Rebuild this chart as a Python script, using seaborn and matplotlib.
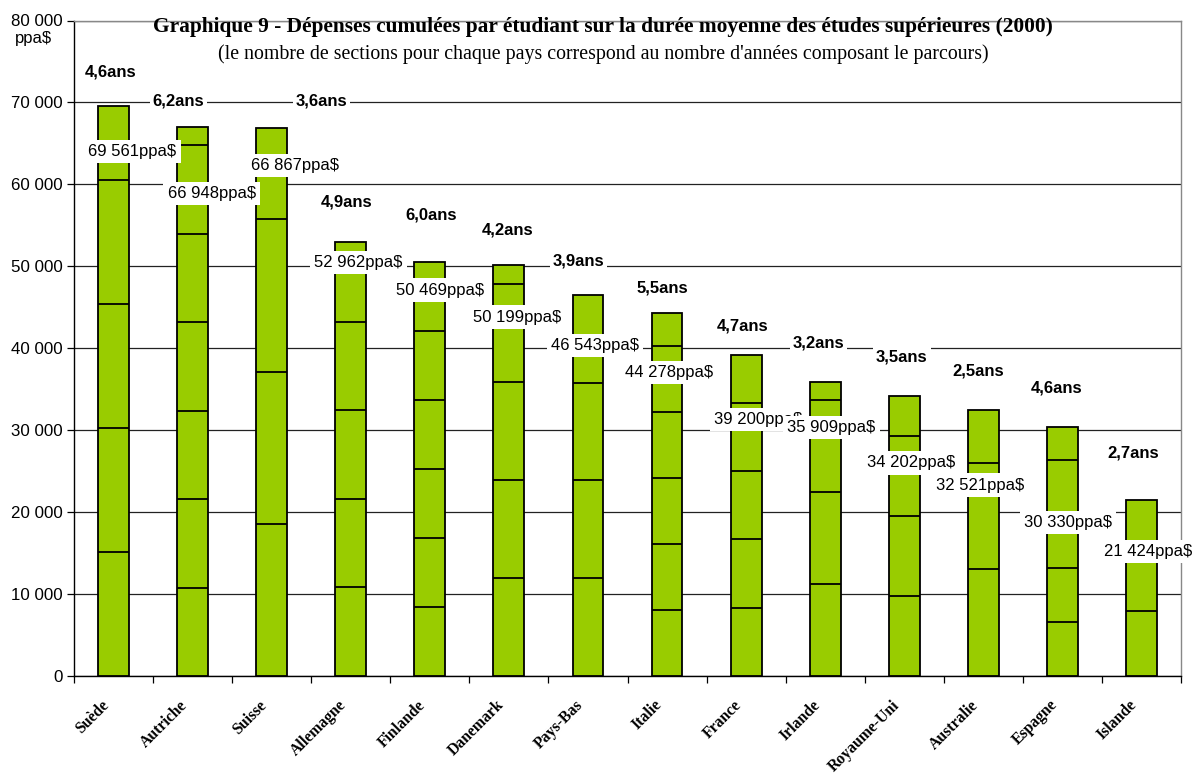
import numpy as np
import pandas as pd
import matplotlib
matplotlib.use("Agg")
import matplotlib.pyplot as plt
import matplotlib.transforms as mtransforms
import seaborn as sns

# Cumulative spending per student over the average length of tertiary studies (2000)
pays = ["Suède", "Autriche", "Suisse", "Allemagne", "Finlande", "Danemark", "Pays-Bas",
        "Italie", "France", "Irlande", "Royaume-Uni", "Australie", "Espagne", "Islande"]
depenses = [69561, 66948, 66867, 52962, 50469, 50199, 46543,
            44278, 39200, 35909, 34202, 32521, 30330, 21424]
duree = [4.6, 6.2, 3.6, 4.9, 6.0, 4.2, 3.9, 5.5, 4.7, 3.2, 3.5, 2.5, 4.6, 2.7]

# label placement (category offset, y value) for the duration and amount labels
pos_duree = [(-0.04, 73700), (-0.18, 70200), (0.63, 70200), (-0.05, 57800), (0.02, 56300),
             (-0.02, 54400), (-0.12, 50600), (-0.06, 47300), (-0.04, 42700), (-0.08, 40600),
             (-0.03, 38900), (-0.06, 37200), (-0.07, 35200), (-0.1, 27200)]
pos_valeur = [(0.24, 64000), (0.24, 58900), (0.3, 62300), (0.10, 50500), (0.13, 47100),
              (0.1, 43800), (0.09, 40300), (0.02, 37000), (0.15, 31300), (0.08, 30300),
              (0.09, 26000), (-0.04, 23300), (0.07, 18700), (0.09, 15200)]

df = pd.DataFrame({"pays": pays, "depenses": depenses, "duree": duree})

sns.set_theme(style="white")
plt.rcParams["font.family"] = ["Liberation Sans", "DejaVu Sans"]
plt.rcParams["text.color"] = "black"
plt.rcParams["xtick.color"] = "black"
plt.rcParams["ytick.color"] = "black"
plt.rcParams["axes.labelcolor"] = "black"

fig = plt.figure(figsize=(12, 7.73), dpi=100)
ax = fig.add_axes([74 / 1200, 1 - 676 / 773, (1181 - 74) / 1200, (676 - 20.5) / 773])

vert = "#99CC00"
sns.barplot(data=df, x="pays", y="depenses", color=vert, saturation=1, width=0.39,
            edgecolor="black", linewidth=1.3, ax=ax, zorder=3)

# one section per year of study: horizontal dividers at each annual amount
for patch, total, d in zip(ax.patches, depenses, duree):
    annuel = total / d
    x0, w = patch.get_x(), patch.get_width()
    k = 1
    while k * annuel < total - 1:
        ax.hlines(k * annuel, x0, x0 + w, color="black", linewidth=1.3, zorder=4)
        k += 1

ax.set_ylim(0, 80000)
ax.set_xlim(-0.5, len(pays) - 0.5)
ax.set_yticks(np.arange(0, 80001, 10000))
ax.set_yticklabels([f"{v:,}".replace(",", " ") for v in range(0, 80001, 10000)],
                   fontsize=12.2, color="black")
ax.yaxis.grid(True, color="#222222", linewidth=0.9, zorder=0)
ax.set_axisbelow(True)
ax.tick_params(axis="y", direction="out", length=5, width=0.9, color="black", pad=3, left=True)

ax.set_xticks(np.arange(len(pays)))
ax.set_xticklabels(pays, rotation=45, ha="right", rotation_mode="anchor",
                   fontsize=11.3, fontweight="bold", family="Liberation Serif", color="black")
ax.tick_params(axis="x", length=0, pad=13)
decalage = mtransforms.ScaledTranslation(-13 / 100, -3 / 100, fig.dpi_scale_trans)
for lab in ax.get_xticklabels():
    lab.set_transform(lab.get_transform() + decalage)
ax.set_xticks(np.arange(-0.5, len(pays)), minor=True)
ax.tick_params(axis="x", which="minor", direction="out", length=5, width=0.9,
               color="black", bottom=True)

ax.set_xlabel("")
ax.set_ylabel("")
for side in ["left", "bottom"]:
    ax.spines[side].set_color("black")
    ax.spines[side].set_linewidth(1.0)
for side in ["top", "right"]:
    ax.spines[side].set_color("#888888")
    ax.spines[side].set_linewidth(1.0)

for i, (d, (dx, dy)) in enumerate(zip(duree, pos_duree)):
    ax.text(i + dx, dy, f"{d:.1f}".replace(".", ",") + "ans", ha="center", va="center",
            fontsize=12, fontweight="bold", color="black", zorder=6,
            bbox=dict(facecolor="white", edgecolor="none", pad=2))

for i, (v, (dx, dy)) in enumerate(zip(depenses, pos_valeur)):
    ax.text(i + dx, dy, f"{v:,}".replace(",", " ") + "ppa$", ha="center", va="center",
            fontsize=12, color="black", zorder=6 + i * 0.01,
            bbox=dict(facecolor="white", edgecolor="none", pad=3))

fig.text(33 / 1200, 1 - 39 / 773, "ppa$", ha="center", va="center", fontsize=12, color="black")
fig.text(603 / 1200, 1 - 27 / 773,
         "Graphique 9 - Dépenses cumulées par étudiant sur la durée moyenne des études supérieures (2000)",
         ha="center", va="center", fontsize=15.4, fontweight="bold",
         family="Liberation Serif", color="black")
fig.text(603 / 1200, 1 - 54 / 773,
         "(le nombre de sections pour chaque pays correspond au nombre d'années composant le parcours)",
         ha="center", va="center", fontsize=14.3, family="Liberation Serif", color="black")

fig.savefig("out.png", dpi=100, facecolor="white")
